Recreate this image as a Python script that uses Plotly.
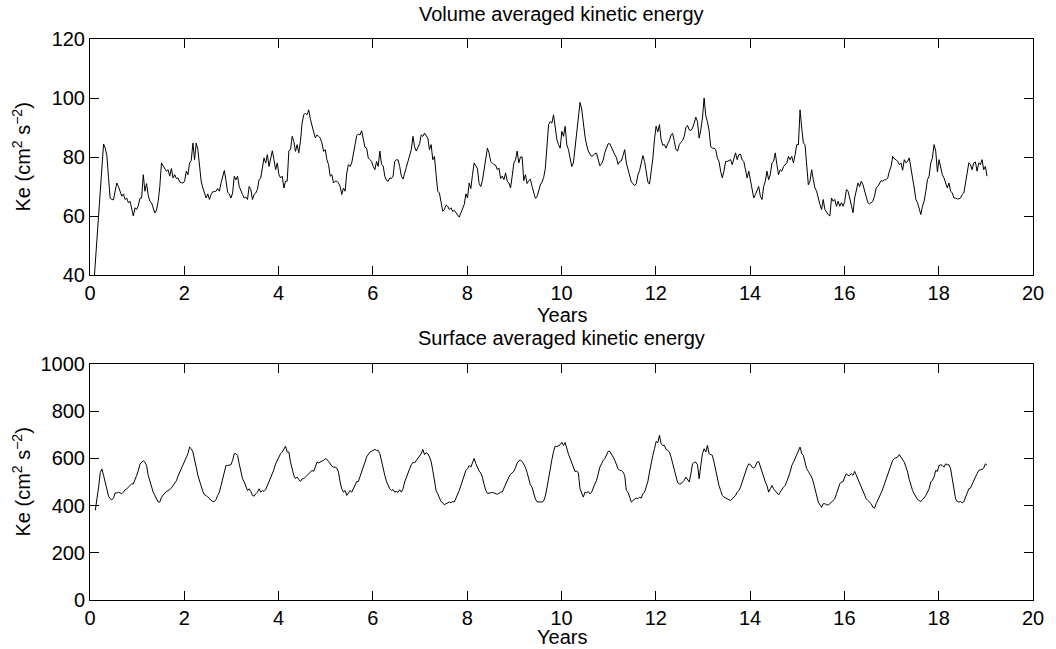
import numpy as np
import plotly.graph_objects as go

# Sampling of both records (years): regular step
dt = 1 / 28.5
vol_t0 = 2.2 / 28.5
srf_t0 = 3.2 / 28.5

# Volume averaged kinetic energy (cm^2 s^-2)
ke_volume = [
    36, 44, 52, 60, 68, 78, 84.4, 83, 80.5, 73, 66, 65.6, 65.5, 68.5, 71.2, 70, 68.4, 66.7, 67.5, 65.6,
    66.1, 64.5, 65, 62.8, 60, 62.8, 62.2, 63.5, 66, 66.1, 74, 68.4, 71, 67, 65, 64.5, 63, 61, 62, 65,
    70, 78, 77, 76, 75.2, 75.7, 73.5, 76.1, 72.9, 74, 72.7, 72.9, 71.5, 71.3, 71.2, 71.8, 75.2, 74, 78, 78.8,
    84.7, 79.1, 84.7, 82.5, 78, 71.8, 69.5, 67.8, 66.1, 67.5, 65.6, 67.3, 68.2, 68.3, 68.4, 69.3, 68.4, 71.2, 72.9, 75.4,
    72, 68, 67.5, 66.1, 67.8, 73.5, 72.3, 73.5, 70, 68.4, 67.3, 66.1, 66.4, 65.6, 70, 69, 65.6, 67.3, 67.8, 69,
    72.3, 72.9, 75.7, 79.7, 78, 80.8, 76.8, 79.1, 82.1, 79.1, 75.7, 78, 74, 72.9, 73.5, 69.5, 71.8, 71.8, 82.1, 82.5,
    87, 85.3, 81.9, 84.2, 81.4, 85.3, 91.5, 94.3, 94.9, 94.3, 96, 92.8, 91, 88.5, 86.5, 87.5, 87, 86.4, 84.7, 81.9,
    82.5, 79.1, 77.4, 73.5, 74, 71.2, 71.8, 71.8, 71.2, 70, 67.3, 69.5, 68.4, 74.6, 77.4, 76.8, 78, 81.4, 85, 87.2,
    87.8, 87.5, 88.9, 86.4, 83.3, 83, 79.7, 79.1, 78.5, 76.8, 75.7, 78.5, 76.8, 82, 77.5, 77, 73.5, 72.1, 71.8, 72.9,
    72.7, 73.5, 78.5, 79.1, 79,
    76.8, 73.5, 72.5, 75, 76.5, 78.5, 80.8, 82.5, 87, 83.5, 82, 83, 84.5, 87.5, 87, 88.1, 87, 86.4, 82.5, 84.2,
    79.1, 80.2, 74, 68.4, 67.8, 63.9, 61.6, 62.2, 63.7, 63.3, 62.2, 62.8, 61.6, 61.9, 61.1, 60.5, 59.6, 61.1, 62.8, 63.9,
    67.5, 66.1, 71.2, 69.3, 74, 78, 77, 76, 71, 70, 72, 76, 80.5, 83, 81.4, 78.5, 78, 77.4, 77.2, 75.7,
    76.3, 72.7, 73.5, 72.3, 74.6, 71.8, 71.2, 69.5, 73.5, 78, 79, 82, 78, 80, 80, 72, 74, 71, 72, 72.5,
    70, 68, 66, 66.5, 68.5, 70.5, 71.5, 73, 76, 84, 91, 92, 91.5, 94.3, 90.4, 85.9, 84.2, 83, 88.7, 87,
    90.4, 84.2, 82.5, 79.1, 76.8, 78, 83, 88.7, 94.3, 98.5, 96.3, 91, 87, 84, 82, 81, 80.2, 80.5, 81.2, 81.3,
    79, 77, 77.7, 79, 81.5, 83, 84.5, 84.5, 83.2, 81.5, 80.8, 79.8, 77.5, 78.5, 78.7, 80.5, 82.5, 78, 75.5, 73,
    71.5, 71, 70.3, 71, 74, 75.4, 78.5, 80.5, 78.5, 74, 71.5, 70.8, 75, 79.4, 86, 90.5, 88.5, 91, 86, 84,
    84.2, 83, 84.5, 85.6, 87.5, 88, 85.3, 82.5, 82, 84.2, 85, 85.6, 87, 90, 90.7, 89.2, 89, 89.8, 91.5, 93.5,
    92, 86.4, 89.2, 93.2, 100, 94, 92, 89, 83.5,
    83, 83, 82.5, 79.7, 78.5, 75.2, 72.9, 75.2, 78.5, 78.5, 78.8, 79.1, 77.4, 79.1, 81.4, 79.1, 80.8, 81, 79, 78.5,
    75.2, 72.9, 75.2, 71.8, 69.5, 66.1, 67.3, 68.4, 70, 66.7, 65.6, 70, 71.8, 75.2, 72.3, 74, 78, 78.5, 81.4, 77.4,
    74, 75.7, 75.2, 76.8, 77.4, 78, 80.2, 79.1, 80.2, 78, 80.8, 84.2, 84.2, 96, 89.8, 84.7, 84.2, 76.8, 70.6, 71.8,
    75.7, 72.3, 69.5, 68.4, 65.6, 63.9, 62.2, 65.6, 62.2, 61.1, 60.5, 60, 66.1, 65, 65.6, 63.3, 65, 63.3, 64.5, 63.3,
    65, 69, 68.4, 66.1, 63.3, 61.1, 66.1, 69, 71.2, 70, 71.8, 70.6, 68.4, 66.1, 64.5, 64.1, 64.5, 65, 66.7, 69.5,
    70, 71.2, 72, 71.8, 72.3, 72.3, 72.9, 75.2, 76.8, 80.2, 79.4, 79.1, 78.5, 77.4, 78, 75.5, 79.1, 78, 78.5, 79.7,
    76.8, 72.9, 69.5, 65.6, 64.5, 62.8, 60.5, 63.3, 65, 68.4, 72.3, 73.5, 78, 79.7, 84.2, 82, 75, 79.1, 76.3, 74,
    72.9, 71.2, 69.5, 71.2, 68.4, 67.8, 66.1, 66.1, 65.8, 65.8, 66.1, 67.3, 67.8, 71.2, 75.2, 78, 77.4, 75.7, 78, 78.3,
    75.2, 78, 77.4, 79.1, 75.7, 76.8, 73.5,
]

# Surface averaged kinetic energy (cm^2 s^-2)
ke_surface = [
    380, 420, 478, 540, 555, 528, 500, 466, 440, 429, 424, 432, 454, 453, 457, 453, 450, 457, 467, 471,
    478, 483, 492, 492, 507, 528, 549, 575, 584, 590, 584, 570, 528, 500, 478, 457, 443, 429, 415, 415,
    435, 445, 454, 460, 464, 467, 475, 485, 497, 505, 525, 542, 559, 577, 587, 606, 620, 648, 641, 627,
    599, 563, 528, 502, 478, 460, 446, 443, 436, 429, 425, 417, 417, 426, 443, 457, 485, 514, 549, 570,
    570, 573, 573, 592, 620, 620, 613, 577, 549, 514, 500, 478, 464, 471, 460, 443, 440, 450, 457, 471,
    457, 464, 460, 468, 485, 502, 514, 535, 553, 577, 592, 606, 620, 627, 641, 652, 627, 627, 584, 556,
    528, 514, 521, 511, 502, 514, 514, 521, 528, 535, 542, 549, 545, 563, 584, 581, 584, 587, 592, 599,
    596, 587, 577, 567, 563, 563, 559, 542, 500, 471, 457, 464, 443, 454, 464, 457, 471, 492, 502, 502,
    521, 549, 563, 584, 606, 620, 627, 630, 634, 638, 634, 634, 620, 584, 556, 528, 502, 485, 471, 464,
    468, 457, 460, 456,
    467, 457, 471, 500, 521, 542, 556, 573, 584, 581, 592, 601, 613, 620, 638, 616, 624, 620, 606, 587,
    549, 507, 464, 450, 429, 417, 412, 403, 408, 410, 415, 412, 417, 415, 429, 443, 464, 485, 507, 528,
    549, 556, 570, 563, 584, 600, 578, 562, 547, 538, 520, 490, 465, 452, 452, 454, 456, 453, 452, 448,
    452, 457, 458, 475, 495, 511, 521, 532, 539, 546, 560, 580, 590, 592, 587, 575, 562, 540, 510, 488,
    478, 455, 428, 416, 415, 415, 415, 420, 440, 475, 520, 560, 595, 630, 652, 650, 655, 658, 668, 655,
    667, 640, 618, 600, 583, 560, 544, 547, 538, 471, 457, 436, 457, 454, 460, 450, 457, 478, 492, 507,
    535, 563, 577, 592, 599, 613, 630, 630, 620, 606, 592, 577, 556, 549, 549, 542, 528, 464, 457, 436,
    415, 422, 429, 432, 429, 436, 432, 450, 457, 478, 502, 542, 584, 613, 641, 672, 666, 698, 662, 655,
    655, 638, 634, 627, 606, 577, 542, 514, 497, 492, 492, 500, 507, 521, 511, 500, 535, 577, 584, 584,
    573, 514, 570, 620, 641, 627, 655, 620, 616,
    613, 584, 549, 514, 485, 464, 443, 436, 432, 426, 425, 422, 429, 436, 443, 457, 464, 478, 500, 521,
    542, 563, 577, 573, 563, 559, 567, 584, 587, 563, 542, 514, 500, 485, 457, 471, 485, 471, 464, 457,
    446, 457, 471, 478, 485, 500, 521, 542, 570, 584, 599, 613, 627, 648, 620, 613, 584, 556, 545, 535,
    521, 500, 471, 436, 415, 403, 393, 408, 408, 403, 403, 408, 415, 422, 429, 450, 471, 492, 500, 502,
    521, 535, 528, 528, 535, 528, 545, 528, 514, 492, 478, 460, 443, 429, 422, 415, 408, 393, 389, 408,
    422, 436, 454, 471, 492, 514, 535, 556, 577, 592, 599, 601, 606, 616, 606, 599, 584, 563, 542, 511,
    485, 464, 450, 436, 426, 422, 417, 426, 432, 443, 457, 471, 500, 507, 521, 549, 545, 570, 573, 570,
    563, 577, 573, 573, 556, 507, 464, 429, 417, 415, 417, 412, 417, 436, 457, 471, 474, 492, 507, 521,
    535, 549, 552, 553, 559, 577, 570,
]

years_volume = vol_t0 + dt * np.arange(len(ke_volume))
years_surface = srf_t0 + dt * np.arange(len(ke_surface))

x_ticks = list(range(0, 21, 2))
vol_ticks = [40, 60, 80, 100, 120]
srf_ticks = [0, 200, 400, 600, 800, 1000]

FONT = "Liberation Sans, Arial, Helvetica, sans-serif"
FS = 20

fig = go.Figure()
fig.add_trace(go.Scatter(x=years_volume, y=ke_volume, mode="lines",
                         line=dict(color="black", width=1), xaxis="x", yaxis="y",
                         showlegend=False, hoverinfo="x+y"))
fig.add_trace(go.Scatter(x=years_surface, y=ke_surface, mode="lines",
                         line=dict(color="black", width=1), xaxis="x2", yaxis="y2",
                         showlegend=False, hoverinfo="x+y"))

axis_common = dict(showline=True, linecolor="black", linewidth=1, mirror="ticks",
                   ticks="inside", ticklen=9, tickwidth=1, tickcolor="black",
                   showgrid=False, zeroline=False,
                   tickfont=dict(family=FONT, size=FS, color="black"))

top_dom = [1 - 236 / 561, 1]
bot_dom = [0, 236 / 561]

fig.update_layout(
    width=1056, height=649,
    margin=dict(l=90, r=16, t=39, b=49),
    paper_bgcolor="white", plot_bgcolor="white",
    font=dict(family=FONT, size=FS, color="black"),
    xaxis=dict(domain=[0, 1], anchor="y", range=[0, 20], tickvals=x_ticks, **axis_common),
    yaxis=dict(domain=top_dom, anchor="x", range=[40, 120], tickvals=vol_ticks, **axis_common),
    xaxis2=dict(domain=[0, 1], anchor="y2", range=[0, 20], tickvals=x_ticks, **axis_common),
    yaxis2=dict(domain=bot_dom, anchor="x2", range=[0, 1000], tickvals=srf_ticks, **axis_common),
)

ylab = "Ke (cm<sup>2</sup> s<sup>\u22122</sup>)"
ann = [
    dict(text="Volume averaged kinetic energy", x=0.5, y=(600 - 14) / 561),
    dict(text="Surface averaged kinetic energy", x=0.5, y=(600 - 338) / 561),
    dict(text="Years", x=0.5, y=(600 - 315) / 561),
    dict(text="Years", x=0.5, y=(600 - 637) / 561),
    dict(text=ylab, x=(20 - 90) / 950, y=(600 - 157) / 561, textangle=-90),
    dict(text=ylab, x=(20 - 90) / 950, y=(600 - 482) / 561, textangle=-90),
]
for a in ann:
    fig.add_annotation(xref="paper", yref="paper", showarrow=False,
                       xanchor="center", yanchor="middle",
                       font=dict(family=FONT, size=FS, color="black"), **a)

fig.write_html("out.html")
